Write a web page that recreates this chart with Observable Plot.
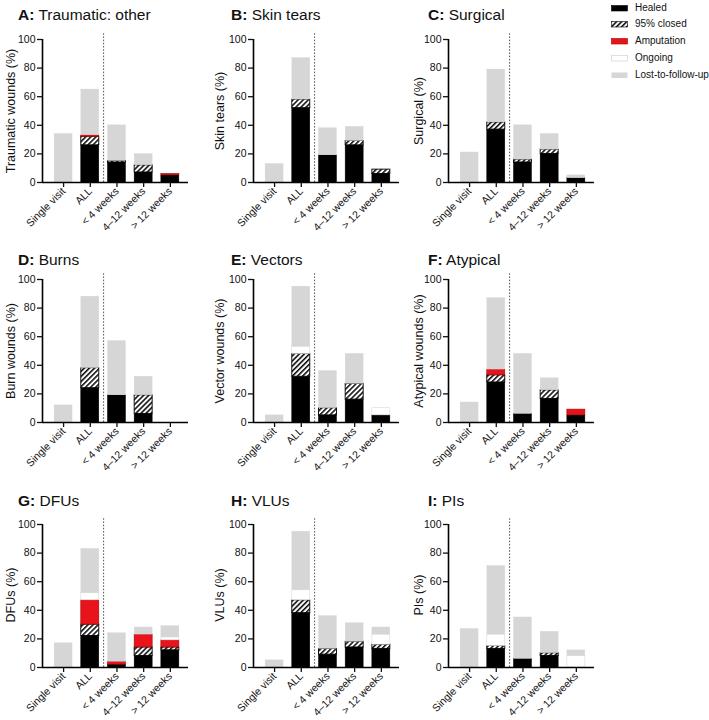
<!DOCTYPE html>
<html>
<head>
<meta charset="utf-8">
<script src="https://cdn.jsdelivr.net/npm/d3@7"></script>
<script src="https://cdn.jsdelivr.net/npm/@observablehq/plot@0.6"></script>
<style>
  body { margin: 0; background: #fff; font-family: "Liberation Sans", Arial, Helvetica, sans-serif; color: #111; }
  #root { position: relative; width: 709px; height: 720px; overflow: hidden; background: #fff; }
  .title { position: absolute; font-size: 15.5px; line-height: 1; white-space: nowrap; color: #111; }
  .ylab { position: absolute; font-size: 12.5px; line-height: 1; white-space: nowrap; color: #111;
          transform: translate(-50%, -50%) rotate(-90deg); }
  .panel { position: absolute; }
  .legend { position: absolute; left: 611px; top: 0; font-size: 10px; color: #111; }
  .legend .item { position: absolute; left: 0; height: 12px; white-space: nowrap; }
  .legend .item svg { position: absolute; left: 0; top: 3px; }
  .legend .item span { position: absolute; left: 24px; top: 0; line-height: 12px; }
</style>
</head>
<body>
<svg width="0" height="0" style="position:absolute">
  <defs>
    <pattern id="hatch" patternUnits="userSpaceOnUse" width="3.6" height="3.6" patternTransform="rotate(45)">
      <rect width="3.6" height="3.6" fill="#fff"/>
      <line x1="0.8" y1="0" x2="0.8" y2="3.6" stroke="#000" stroke-width="1.5"/>
    </pattern>
  </defs>
</svg>
<div id="root"></div>
<script>
// ---------- data ----------
const categories = ["Single visit", "ALL", "< 4 weeks", "4–12 weeks", "> 12 weeks"];
const statuses = ["Healed", "95% closed", "Amputation", "Ongoing", "Lost-to-follow-up"];
const panelLetters = ["A", "B", "C", "D", "E", "F", "G", "H", "I"];
const panelTitles = ["Traumatic: other", "Skin tears", "Surgical", "Burns", "Vectors", "Atypical", "DFUs", "VLUs", "PIs"];
const yLabels = ["Traumatic wounds (%)", "Skin tears (%)", "Surgical (%)", "Burn wounds (%)", "Vector wounds (%)",
                 "Atypical wounds (%)", "DFUs (%)", "VLUs (%)", "PIs (%)"];
const yTicks = [0, 20, 40, 60, 80, 100];

// rows = statuses (Healed, 95% closed, Amputation, Ongoing, Lost), columns = categories
const traumaticOther = [[0, 26, 14, 7, 5], [0, 6, 1, 5, 0], [0, 1, 0, 0, 1], [0, 0, 0, 0, 0], [34, 32, 25, 8, 0]];
const skinTears      = [[0, 52, 19, 26, 6], [0, 6, 0, 3, 3], [0, 0, 0, 0, 0], [0, 0, 0, 0, 0], [13, 29, 19, 10, 0]];
const surgical       = [[0, 37, 14, 20, 3], [0, 5, 2, 3, 0], [0, 0, 0, 0, 0], [0, 0, 0, 0, 0], [21, 37, 24, 11, 2]];
const burns          = [[0, 24, 19, 6, 0], [0, 14, 0, 13, 0], [0, 0, 0, 0, 0], [0, 0, 0, 0, 0], [12, 50, 38, 13, 0]];
const vectors        = [[0, 32, 5, 16, 5], [0, 16, 5, 11, 0], [0, 0, 0, 0, 0], [0, 5, 0, 0, 5], [5, 42, 26, 21, 0]];
const atypical       = [[0, 28, 6, 16.5, 5], [0, 5, 0, 6, 0], [0, 4, 0, 0, 4], [0, 0, 0, 0, 0], [14, 50, 42, 8.5, 0]];
const dfus           = [[0, 22, 2, 8, 12], [0, 8, 0, 6, 2], [0, 17, 2, 9, 5], [0, 5, 0, 0, 2], [17, 31, 20, 5, 8]];
const vlus           = [[0, 38, 9, 14, 13], [0, 9, 4, 4, 3], [0, 0, 0, 0, 0], [0, 7, 0, 0, 7], [5, 41, 23, 13, 5]];
const pis            = [[0, 13, 6, 8, 0], [0, 2, 0, 2, 0], [0, 0, 0, 0, 0], [0, 8, 0, 0, 8], [27, 48, 29, 15, 4]];

const panelData = [traumaticOther, skinTears, surgical, burns, vectors, atypical, dfus, vlus, pis];

// ---------- styles ----------
const fills = ["#000000", "url(#hatch)", "#e8131b", "#ffffff", "#d6d6d6"];
const strokes = ["#000000", "#000000", "#a80000", "#d9d9d9", "#d6d6d6"];
const strokeWidths = [0.5, 0.9, 0.6, 0.6, 0.3];

const fontFamily = '"Liberation Sans", Arial, Helvetica, sans-serif';
const M = {l: 45, r: 4, t: 8, b: 62};
const frameW = 146, frameH = 143;
const xDomain = [-0.79, 4.68];
const halfBar = 0.337;
const colAxisX = [41.5, 252.5, 448];
const rowTop = [39.3, 279, 523.5];
const titleX = [18, 231, 428];
const titleTop = [6.7, 251.7, 493];
const ylabX = [10.5, 220, 419];

function stackRows(matrix) {
  const rows = [];
  categories.forEach((cat, i) => {
    let base = 0;
    statuses.forEach((s, k) => {
      const v = matrix[k][i];
      if (v > 0) rows.push({i, cat, status: s, y1: base, y2: base + v});
      base += v;
    });
  });
  return rows;
}

const root = document.getElementById("root");
const divider = (categories.indexOf("ALL") + categories.indexOf("< 4 weeks")) / 2;

panelData.forEach((matrix, p) => {
  const r = Math.floor(p / 3), c = p % 3;
  const rows = stackRows(matrix);
  const marks = [];
  statuses.forEach((s, k) => {
    marks.push(Plot.rect(rows.filter(d => d.status === s), {
      x1: d => d.i - halfBar, x2: d => d.i + halfBar, y1: "y1", y2: "y2",
      fill: "status", stroke: strokes[k], strokeWidth: strokeWidths[k]
    }));
  });
  marks.push(Plot.ruleX([divider], {y1: 0, y2: 104, stroke: "#555", strokeWidth: 1, strokeDasharray: "1.6,1.6"}));
  marks.push(Plot.ruleX([xDomain[0]], {y1: 0, y2: 100, stroke: "#000", strokeWidth: 1.6}));
  marks.push(Plot.ruleY([0], {stroke: "#000", strokeWidth: 1.6}));
  marks.push(Plot.axisY({ticks: yTicks, tickSize: 5, tickPadding: 2, label: null, strokeWidth: 1.3}));
  marks.push(Plot.axisX({ticks: categories.map((_, i) => i), tickFormat: i => categories[i],
                         tickRotate: -45, tickSize: 5, tickPadding: 2, label: null, strokeWidth: 1.3}));

  const svg = Plot.plot({
    width: M.l + frameW + M.r,
    height: M.t + frameH + M.b,
    marginLeft: M.l, marginRight: M.r, marginTop: M.t, marginBottom: M.b,
    x: {domain: xDomain, axis: null},
    y: {domain: [0, 100], axis: null},
    color: {domain: statuses, range: fills},
    style: {fontFamily, fontSize: "10.5px", color: "#111", background: "transparent", overflow: "visible"},
    marks
  });

  const holder = document.createElement("div");
  holder.className = "panel";
  holder.style.left = (colAxisX[c] - M.l) + "px";
  holder.style.top = (rowTop[r] - M.t) + "px";
  holder.appendChild(svg);
  root.appendChild(holder);

  const t = document.createElement("div");
  t.className = "title";
  t.style.left = titleX[c] + "px";
  t.style.top = titleTop[r] + "px";
  t.innerHTML = "<b>" + panelLetters[p] + ":</b> " + panelTitles[p];
  root.appendChild(t);

  const yl = document.createElement("div");
  yl.className = "ylab";
  yl.style.left = ylabX[c] + "px";
  yl.style.top = (rowTop[r] + frameH / 2) + "px";
  yl.textContent = yLabels[p];
  root.appendChild(yl);
});

// ---------- legend ----------
const legend = document.createElement("div");
legend.className = "legend";
statuses.forEach((s, k) => {
  const item = document.createElement("div");
  item.className = "item";
  item.style.top = (1.5 + k * 16.8) + "px";
  item.innerHTML = `<svg width="17" height="7"><rect x="0.5" y="0.5" width="16" height="5.5" fill="${fills[k]}" stroke="${strokes[k] === '#d6d6d6' ? 'none' : strokes[k]}" stroke-width="${k === 3 ? 0.8 : 0.6}"/></svg><span>${s}</span>`;
  legend.appendChild(item);
});
root.appendChild(legend);
</script>
</body>
</html>
